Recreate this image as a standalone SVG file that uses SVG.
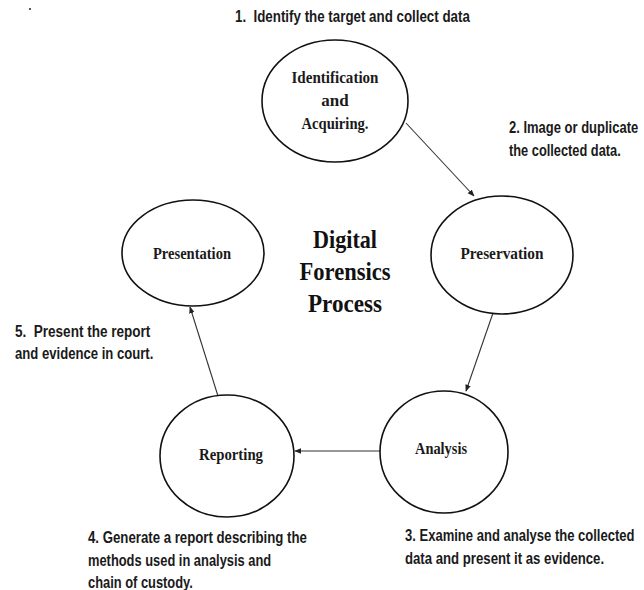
<svg xmlns="http://www.w3.org/2000/svg" width="644" height="590" viewBox="0 0 644 590">
  <style>
    .node ellipse { fill: #ffffff; stroke: #111111; stroke-width: 1.6; }
    .node text { font-family: "Liberation Serif", "Times New Roman", serif; font-weight: bold; font-size: 17px; fill: #1a1a1a; text-anchor: middle; }
    .title { font-family: "Liberation Serif", "Times New Roman", serif; font-weight: bold; font-size: 25px; fill: #111111; text-anchor: middle; }
    .note { font-family: "Liberation Sans", Arial, sans-serif; font-weight: bold; font-size: 16px; fill: #1a1a1a; }
    .edge { stroke: #333333; stroke-width: 1.1; fill: none; marker-end: url(#arrow); }
  </style>
  <defs>
    <marker id="arrow" viewBox="0 0 10 10" refX="9" refY="5" markerWidth="7" markerHeight="7" markerUnits="userSpaceOnUse" orient="auto">
      <path d="M0,1 L10,5 L0,9 z" fill="#222222"/>
    </marker>
  </defs>

  <rect width="644" height="590" fill="#ffffff"/>

  <!-- stray dot in the corner -->
  <circle cx="30" cy="9" r="1.1" fill="#333333"/>

  <!-- connectors between the process steps -->
  <g id="connectors">
    <line class="edge" x1="406" y1="123" x2="474" y2="196"/>
    <line class="edge" x1="493" y1="313" x2="466" y2="391"/>
    <line class="edge" x1="380" y1="451" x2="295" y2="451" stroke-width="1.8"/>
    <line class="edge" x1="218" y1="396" x2="190" y2="307"/>
  </g>

  <!-- process steps -->
  <g id="identification" class="node">
    <ellipse cx="335" cy="101" rx="73" ry="61"/>
    <text x="335" y="83" textLength="87" lengthAdjust="spacingAndGlyphs">Identification</text>
    <text x="335" y="106">and</text>
    <text x="335" y="129" textLength="67" lengthAdjust="spacingAndGlyphs">Acquiring.</text>
  </g>

  <g id="preservation" class="node">
    <ellipse cx="502" cy="255" rx="71" ry="59"/>
    <text x="502" y="259" textLength="83" lengthAdjust="spacingAndGlyphs">Preservation</text>
  </g>

  <g id="analysis" class="node">
    <ellipse cx="444" cy="452" rx="64" ry="61"/>
    <text x="441" y="454" textLength="52" lengthAdjust="spacingAndGlyphs">Analysis</text>
  </g>

  <g id="reporting" class="node">
    <ellipse cx="227" cy="456" rx="67" ry="61"/>
    <text x="231" y="460" textLength="64" lengthAdjust="spacingAndGlyphs">Reporting</text>
  </g>

  <g id="presentation" class="node">
    <ellipse cx="193" cy="253" rx="71" ry="53"/>
    <text x="192" y="259" textLength="78" lengthAdjust="spacingAndGlyphs">Presentation</text>
  </g>

  <!-- central heading -->
  <g id="heading">
    <text class="title" x="345" y="248" textLength="64" lengthAdjust="spacingAndGlyphs">Digital</text>
    <text class="title" x="345" y="280" textLength="91" lengthAdjust="spacingAndGlyphs">Forensics</text>
    <text class="title" x="345" y="312" textLength="74" lengthAdjust="spacingAndGlyphs">Process</text>
  </g>

  <!-- step descriptions: narrow bold captions, squeezed horizontally -->
  <g id="notes">
    <text class="note" transform="translate(235,22) scale(0.76,1)" textLength="309" lengthAdjust="spacingAndGlyphs" xml:space="preserve">1.  Identify the target and collect data</text>

    <text class="note" transform="translate(509,133) scale(0.76,1)" textLength="170" lengthAdjust="spacingAndGlyphs">2. Image or duplicate</text>
    <text class="note" transform="translate(509,156) scale(0.76,1)" textLength="147" lengthAdjust="spacingAndGlyphs">the collected data.</text>

    <text class="note" transform="translate(405,541) scale(0.76,1)" textLength="302" lengthAdjust="spacingAndGlyphs">3. Examine and analyse the collected</text>
    <text class="note" transform="translate(405,564) scale(0.76,1)" textLength="262" lengthAdjust="spacingAndGlyphs">data and present it as evidence.</text>

    <text class="note" transform="translate(88,543) scale(0.76,1)" textLength="288" lengthAdjust="spacingAndGlyphs">4. Generate a report describing the</text>
    <text class="note" transform="translate(88,566) scale(0.76,1)" textLength="241" lengthAdjust="spacingAndGlyphs">methods used in analysis and</text>
    <text class="note" transform="translate(88,588) scale(0.76,1)" textLength="138" lengthAdjust="spacingAndGlyphs">chain of custody.</text>

    <text class="note" transform="translate(15,337) scale(0.76,1)" textLength="178" lengthAdjust="spacingAndGlyphs" xml:space="preserve">5.  Present the report</text>
    <text class="note" transform="translate(15,359) scale(0.76,1)" textLength="182" lengthAdjust="spacingAndGlyphs">and evidence in court.</text>
  </g>
</svg>
